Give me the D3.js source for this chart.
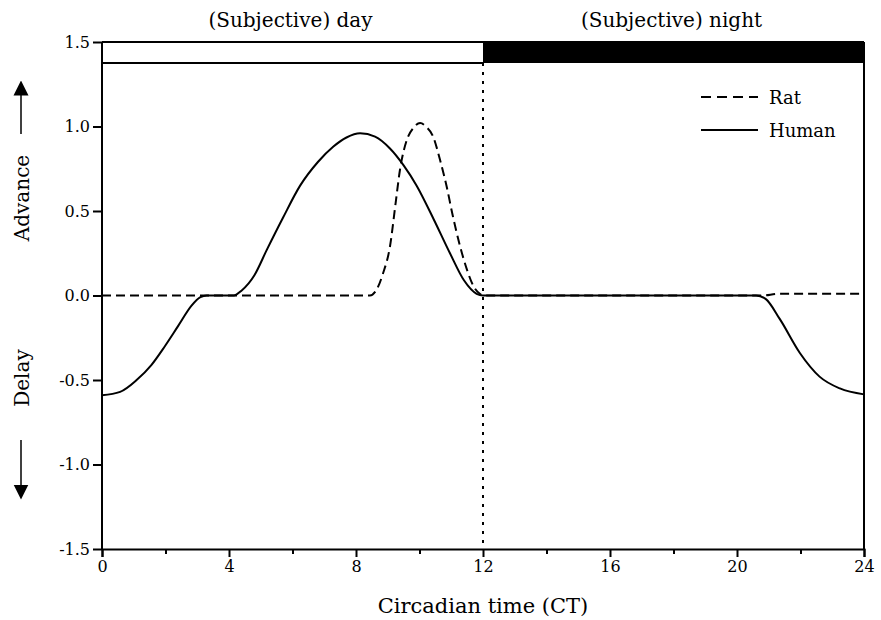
<!DOCTYPE html>
<html>
<head>
<meta charset="utf-8">
<script src="https://cdn.jsdelivr.net/npm/d3@7"></script>
<style>
  body { margin: 0; background: #fff; }
  svg { display: block; }
  svg text { font-family: "DejaVu Serif"; fill: #000; }
</style>
</head>
<body>
<svg id="chart" width="881" height="620"></svg>
<script>
// ---- Data ----
const xTicks = [0, 4, 8, 12, 16, 20, 24];
const xMinorTicks = [2, 6, 10, 14, 18, 22];
const yTicks = [-1.5, -1.0, -0.5, 0.0, 0.5, 1.0, 1.5];
const seriesNames = ["Rat", "Human"];
const periodLabels = ["(Subjective) day", "(Subjective) night"];
const periods = [[0, 12], [12, 24]];

const ratX = [0, 8.44, 8.65, 8.85, 9.07, 9.25, 9.39, 9.6, 9.8, 10.02, 10.2, 10.43, 10.65, 10.85, 11.05, 11.28, 11.5, 11.7, 11.9, 12, 20.8, 21.3, 24];
const ratY = [0, 0, 0.035, 0.13, 0.29, 0.55, 0.75, 0.92, 0.99, 1.02, 1.0, 0.94, 0.80, 0.65, 0.47, 0.29, 0.15, 0.055, 0.01, 0, 0, 0.01, 0.01];

const humanX = [0, 0.57, 1.09, 1.56, 1.98, 2.4, 2.82, 3.1, 3.3, 4.15, 4.4, 4.8, 5.19, 5.7, 6.24, 6.8, 7.28, 7.7, 8.13, 8.6, 9.07, 9.5, 9.91, 10.45, 10.96, 11.4, 11.8, 12, 20.6, 20.9, 21.35, 21.98, 22.6, 23.24, 24];
const humanY = [-0.59, -0.57, -0.50, -0.41, -0.30, -0.18, -0.06, -0.01, 0, 0, 0.03, 0.12, 0.27, 0.46, 0.65, 0.79, 0.88, 0.935, 0.96, 0.94, 0.87, 0.77, 0.65, 0.45, 0.25, 0.09, 0.01, 0, 0, -0.02, -0.14, -0.34, -0.48, -0.55, -0.585];

// ---- Layout ----
const svg = d3.select("#chart");
const mLeft = 102, mRight = 864, mTop = 42, mBottom = 549;
const barBottom = 63;
const FONT = "'DejaVu Serif'";

const x = d3.scaleLinear().domain([0, 24]).range([mLeft, mRight]);
const y = d3.scaleLinear().domain([-1.5, 1.5]).range([mBottom, mTop]);

// Day/night bar
svg.append("rect")
  .attr("x", x(periods[1][0])).attr("y", mTop)
  .attr("width", x(periods[1][1]) - x(periods[1][0])).attr("height", barBottom - mTop)
  .attr("fill", "#000");
svg.append("line")
  .attr("x1", x(0)).attr("x2", x(12)).attr("y1", barBottom).attr("y2", barBottom)
  .attr("stroke", "#000").attr("stroke-width", 2);

// Period labels
svg.selectAll("text.period").data(periodLabels).join("text")
  .attr("class", "period")
  .attr("x", (d, i) => x((periods[i][0] + periods[i][1]) / 2) - 2)
  .attr("y", 27)
  .attr("text-anchor", "middle")
  .attr("font-size", 20)
  .text(d => d);

// Frame: top and right lines
svg.append("line").attr("x1", mLeft).attr("x2", mRight).attr("y1", mTop).attr("y2", mTop)
  .attr("stroke", "#000").attr("stroke-width", 2);
svg.append("line").attr("x1", mRight).attr("x2", mRight).attr("y1", mTop).attr("y2", mBottom)
  .attr("stroke", "#000").attr("stroke-width", 2);

// Axes
const yFmt = d => d3.format(".1f")(d).replace("\u2212", "-");
const xAxis = svg.append("g").attr("transform", `translate(0,${mBottom})`)
  .call(d3.axisBottom(x).tickValues(xTicks).tickFormat(d3.format("d")).tickSize(8).tickPadding(4));
const xMinor = svg.append("g").attr("transform", `translate(0,${mBottom})`)
  .call(d3.axisBottom(x).tickValues(xMinorTicks).tickFormat("").tickSize(5));
const yAxis = svg.append("g").attr("transform", `translate(${mLeft},0)`)
  .call(d3.axisLeft(y).tickValues(yTicks).tickFormat(yFmt).tickSize(9).tickPadding(3));

[xAxis, xMinor, yAxis].forEach(g => {
  g.attr("font-family", FONT);
  g.select(".domain").attr("stroke", "#000").attr("stroke-width", 2);
  g.selectAll(".tick line").attr("stroke", "#000").attr("stroke-width", 2);
  g.selectAll(".tick text").attr("font-size", 16).attr("fill", "#000");
});
xMinor.select(".domain").remove();
yAxis.select(".domain").attr("d", `M0,${mBottom}V${mTop}`);

// Dotted midline at CT12
svg.append("line")
  .attr("x1", x(12)).attr("x2", x(12)).attr("y1", barBottom).attr("y2", mBottom)
  .attr("stroke", "#000").attr("stroke-width", 2).attr("stroke-dasharray", "3,6");

// Lines
const line = d3.line().x(d => x(d[0])).y(d => y(d[1])).curve(d3.curveMonotoneX);
const ratData = ratX.map((v, i) => [v, ratY[i]]);
const humanData = humanX.map((v, i) => [v, humanY[i]]);

svg.append("path").datum(ratData).attr("d", line)
  .attr("fill", "none").attr("stroke", "#000").attr("stroke-width", 2).attr("stroke-dasharray", "9,5");
svg.append("path").datum(humanData).attr("d", line)
  .attr("fill", "none").attr("stroke", "#000").attr("stroke-width", 2);

// Legend
const legend = svg.append("g");
seriesNames.forEach((name, i) => {
  const ly = 97 + i * 33;
  legend.append("line").attr("x1", 701).attr("x2", 758).attr("y1", ly).attr("y2", ly)
    .attr("stroke", "#000").attr("stroke-width", 2)
    .attr("stroke-dasharray", i === 0 ? "10,6" : null);
  legend.append("text").attr("x", 769).attr("y", ly + 7).attr("font-size", 18).text(name);
});

// Y-side labels with arrows
svg.append("defs").append("marker")
  .attr("id", "arrow").attr("viewBox", "0 0 10 10").attr("refX", 5).attr("refY", 5)
  .attr("markerWidth", 10).attr("markerHeight", 14).attr("orient", "auto")
  .append("path").attr("d", "M0,0 L10,5 L0,10 Z").attr("fill", "#000");

svg.append("text").attr("transform", "translate(29,198) rotate(-90)")
  .attr("text-anchor", "middle").attr("font-size", 20).text("Advance");
svg.append("text").attr("transform", "translate(29,378) rotate(-90)")
  .attr("text-anchor", "middle").attr("font-size", 20).text("Delay");

svg.append("line").attr("x1", 21).attr("x2", 21).attr("y1", 134).attr("y2", 88)
  .attr("stroke", "#000").attr("stroke-width", 1.5).attr("marker-end", "url(#arrow)");
svg.append("line").attr("x1", 21).attr("x2", 21).attr("y1", 440).attr("y2", 492)
  .attr("stroke", "#000").attr("stroke-width", 1.5).attr("marker-end", "url(#arrow)");

// X axis title
svg.append("text").attr("x", x(12)).attr("y", 613).attr("text-anchor", "middle")
  .attr("font-size", 21).text("Circadian time (CT)");
</script>
</body>
</html>
